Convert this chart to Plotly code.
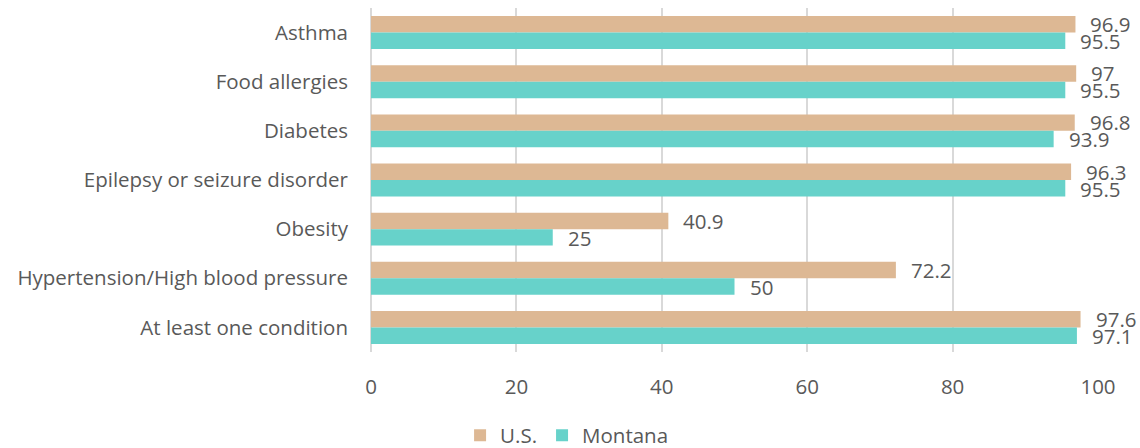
import plotly.graph_objects as go

categories = [
    "Asthma",
    "Food allergies",
    "Diabetes",
    "Epilepsy or seizure disorder",
    "Obesity",
    "Hypertension/High blood pressure",
    "At least one condition",
]
us_values = [96.9, 97, 96.8, 96.3, 40.9, 72.2, 97.6]
montana_values = [95.5, 95.5, 93.9, 95.5, 25, 50, 97.1]
x_ticks = [0, 20, 40, 60, 80, 100]

US_COLOR = "#DDB894"
MT_COLOR = "#67D2CA"
TEXT_COLOR = "#595959"
FONT = "Open Sans"
SIZE = 20.5

fig = go.Figure()
fig.add_trace(go.Bar(
    name="U.S.", y=categories, x=us_values, orientation="h",
    marker=dict(color=US_COLOR, line=dict(width=0)),
))
fig.add_trace(go.Bar(
    name="Montana", y=categories, x=montana_values, orientation="h",
    marker=dict(color=MT_COLOR, line=dict(width=0)),
))

# value labels sit just past the end of each bar, on the bar's own row
annotations = []
for cat, us, mt in zip(categories, us_values, montana_values):
    for val, shift in ((us, 8.5), (mt, -8.5)):
        annotations.append(dict(
            x=val, y=cat, xref="x", yref="y", text=f"{val:g}",
            showarrow=False, xanchor="left", yanchor="middle",
            xshift=13, yshift=shift,
            font=dict(family=FONT, size=SIZE, color=TEXT_COLOR),
        ))

fig.update_layout(
    barmode="group",
    bargap=0.33,
    bargroupgap=0,
    width=1140,
    height=448,
    margin=dict(l=371, r=42, t=8, b=96),
    paper_bgcolor="white",
    plot_bgcolor="white",
    font=dict(family=FONT, size=SIZE, color=TEXT_COLOR),
    annotations=annotations,
    showlegend=True,
    legend=dict(
        orientation="h", xref="container", yref="container",
        x=0.497, xanchor="center", y=0.028, yanchor="middle",
        font=dict(family=FONT, size=SIZE, color=TEXT_COLOR),
        itemwidth=30, tracegroupgap=0,
    ),
)
fig.update_xaxes(
    range=[0, 100], tickvals=x_ticks, showgrid=True,
    gridcolor="#D9D9D9", gridwidth=2, zeroline=True,
    zerolinecolor="#D9D9D9", zerolinewidth=2,
    ticks="", ticklabelstandoff=20, showline=False,
    tickfont=dict(family=FONT, size=SIZE, color=TEXT_COLOR),
)
fig.update_yaxes(
    autorange="reversed", showgrid=False, ticks="",
    ticklabelstandoff=22, showline=False,
    tickfont=dict(family=FONT, size=SIZE, color=TEXT_COLOR),
)

fig.write_html("out.html")
